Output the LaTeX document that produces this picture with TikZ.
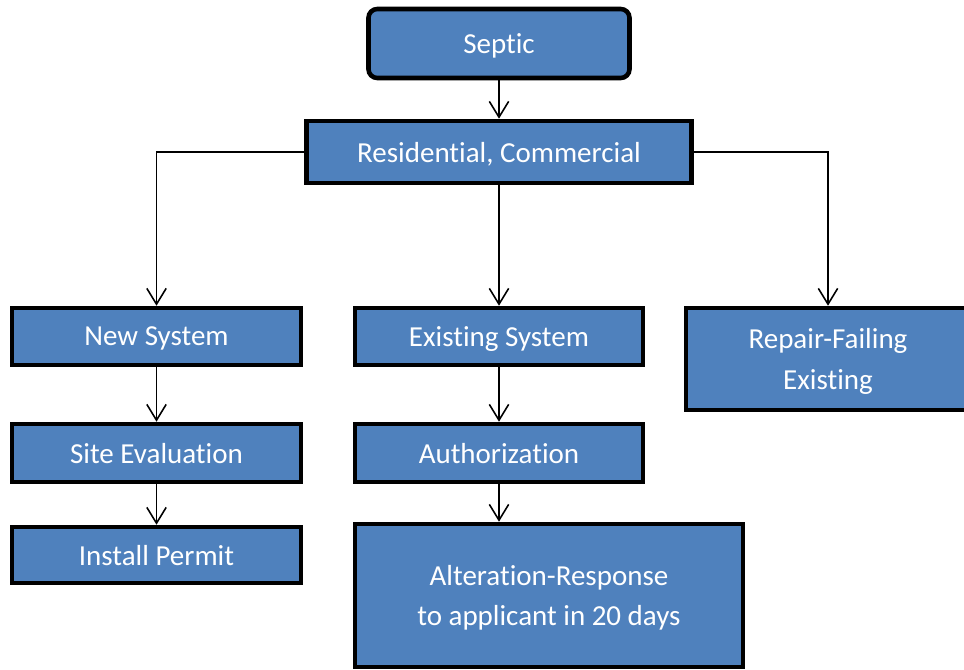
\documentclass[tikz,border=0pt]{standalone}
\usepackage{fontspec}
\setmainfont{Carlito}[RawFeature={-liga;-clig;-calt;-dlig;-rlig}]
\usepackage{tikz}
\usetikzlibrary{arrows.meta,calc}
\definecolor{boxblue}{RGB}{79,129,189}

\begin{document}
\begin{tikzpicture}[
    box/.style={draw=black,line width=2.6pt,fill=boxblue,text=white,align=center,
      inner sep=0pt,text depth=0pt,font=\fontsize{16.5}{23}\selectfont},
    link/.style={line width=0.9pt,black,-{Straight Barb[length=9pt,width=11pt]}}]
    \useasboundingbox (0,0) rectangle (19.28,-13.38);
    \node[box,rounded corners=5pt,minimum width=5.22cm,minimum height=1.38cm] (septic) at (9.98,-0.87) {Septic};
    \node[box,minimum width=7.70cm,minimum height=1.24cm] (res) at (9.98,-3.04) {Residential, Commercial};
    \node[box,minimum width=5.78cm,minimum height=1.14cm] (newsys) at (3.13,-6.73) {New System};
    \node[box,minimum width=5.76cm,minimum height=1.14cm] (existsys) at (9.98,-6.73) {Existing System};
    \node[box,minimum width=5.68cm,minimum height=2.04cm] (repair) at (16.56,-7.18) {Repair-Failing\\Existing};
    \node[box,minimum width=5.78cm,minimum height=1.16cm] (siteeval) at (3.13,-9.06) {Site Evaluation};
    \node[box,minimum width=5.76cm,minimum height=1.16cm] (auth) at (9.98,-9.06) {Authorization};
    \node[box,minimum width=5.78cm,minimum height=1.12cm] (permit) at (3.13,-11.10) {Install Permit};
    \node[box,minimum width=7.76cm,minimum height=2.86cm] (alter) at (10.98,-11.91) {Alteration-Response\\to applicant in 20 days};
    \draw[link](septic.south)--(res.north);
    \draw[link](res.west)-|(newsys.north);
    \draw[link](res.east)-|(repair.north);
    \draw[link](res.south)--(existsys.north);
    \draw[link](newsys.south)--(siteeval.north);
    \draw[link](siteeval.south)--(permit.north);
    \draw[link](existsys.south)--(auth.north);
    \draw[link](auth.south)--(auth.south|-alter.north);
  \end{tikzpicture}
\end{document}
